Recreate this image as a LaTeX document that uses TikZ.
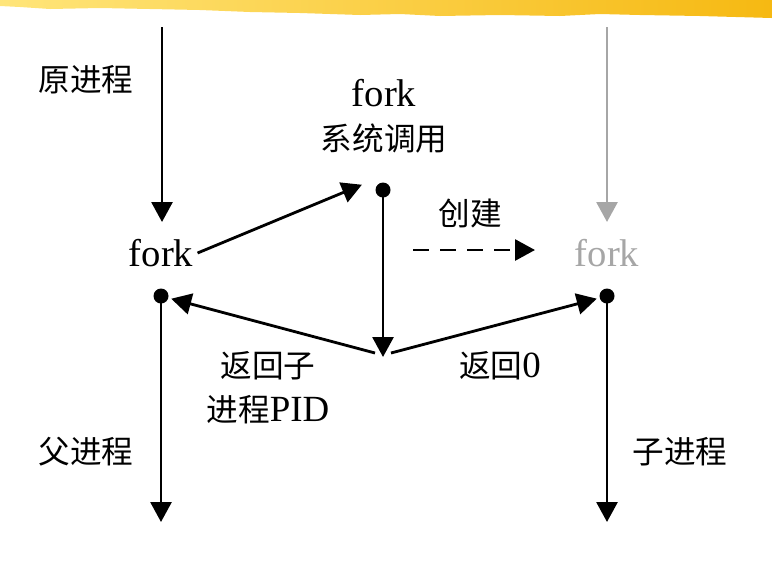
\documentclass[tikz,border=0pt]{standalone}
\usepackage{fontspec}
\setmainfont{Liberation Serif}
\newfontfamily\cjk{Noto Sans CJK SC}
\usetikzlibrary{arrows.meta}
\definecolor{brushlight}{HTML}{FFE57A}
\definecolor{brushdark}{HTML}{F6B912}
\definecolor{childgray}{HTML}{A6A6A6}
\tikzset{
  flow/.style={line width=1.6pt, -{Triangle[length=4mm,width=4.2mm]}},
  cjklab/.style={font=\cjk\fontsize{18}{22}\selectfont, inner sep=0pt},
  forklab/.style={font=\fontsize{22}{26}\selectfont, inner sep=0pt},
}
\begin{document}
\begin{tikzpicture}[x=0.2mm,y=-0.2mm]
\useasboundingbox (0,0) rectangle (772,576);
% brush stroke on top
\shade[left color=brushlight, right color=brushdark]
  (0,0) -- (772,0) -- (772,18) -- (700,16) -- (640,15) -- (600,14) -- (560,16)
  -- (500,15) -- (440,16) -- (400,14) -- (360,15) -- (300,13) -- (250,12)
  -- (200,10) -- (150,9) -- (100,8) -- (50,9) -- (20,7) -- (0,6) -- cycle;
% parent process
\coordinate (ptop) at (162,27);
\coordinate (pin) at (162,222);
\node[forklab] (pfork) at (161,253) {fork};
\coordinate (pdot) at (161,296);
\coordinate (pend) at (161,522);
\draw[flow] (ptop) -- (pin);
\fill (pdot) circle (1.5mm);
\draw[flow] (pdot) -- (pend);
\node[cjklab] at (86,80) {原进程};
\node[cjklab] at (86,452) {父进程};
% system call
\node[forklab] (sfork) at (384,93) {fork};
\node[cjklab] (scall) at (384,138) {系统调用};
\coordinate (sdot) at (383,190);
\coordinate (sjoin) at (383,357);
\fill (sdot) circle (1.5mm);
\draw[flow] (pfork.east) ++(4,0) -- ([xshift=-12pt,yshift=3pt]sdot);
\draw[flow] (sdot) -- (sjoin);
% child process
\coordinate (ctop) at (607,27);
\coordinate (cin) at (607,222);
\node[forklab, text=childgray] (cfork) at (607,253) {fork};
\coordinate (cdot) at (607,296);
\coordinate (cend) at (607,522);
\draw[flow, childgray] (ctop) -- (cin);
\fill (cdot) circle (1.5mm);
\draw[flow] (cdot) -- (cend);
\node[cjklab] at (680,452) {子进程};
% create
\node[cjklab] (create) at (470,213) {创建};
\draw[flow, dash pattern=on 3.2mm off 2.2mm] (413,250) -- (535,250);
% returns
\draw[flow, shorten >=6pt] (sjoin) ++(-8,-4) -- (pdot);
\draw[flow, shorten >=6pt] (sjoin) ++(8,-4) -- (cdot);
\node[cjklab] at (268,366) {返回子};
\node[cjklab] at (268,410) {进程{\rmfamily\fontsize{21}{24}\selectfont PID}};
\node[cjklab] at (500,366) {返回{\rmfamily\fontsize{21}{24}\selectfont 0}};
\end{tikzpicture}
\end{document}
